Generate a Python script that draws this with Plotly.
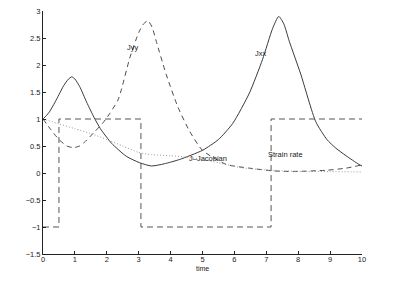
import plotly.graph_objects as go

# Jxx (solid)
t_jxx = [0, 0.1, 0.2, 0.375, 0.5, 0.65, 0.8, 0.9, 1.0, 1.15, 1.37, 1.6, 1.8, 2.15, 2.61, 3.03, 3.4, 3.8, 4.28, 5.0, 5.5, 5.95, 6.47, 6.88, 7.2, 7.39, 7.55, 7.72, 8.08, 8.55, 8.9, 9.18, 9.5, 9.9, 10]
jxx = [1.0, 1.06, 1.13, 1.31, 1.45, 1.62, 1.74, 1.78, 1.74, 1.6, 1.31, 1.03, 0.82, 0.55, 0.31, 0.19, 0.13, 0.17, 0.25, 0.42, 0.62, 0.92, 1.48, 2.1, 2.68, 2.9, 2.76, 2.44, 1.83, 0.95, 0.62, 0.46, 0.32, 0.16, 0.13]

# Jyy (dashed)
t_jyy = [0, 0.25, 0.5, 0.75, 0.95, 1.15, 1.3, 1.63, 1.88, 2.09, 2.35, 2.46, 2.72, 3.0, 3.15, 3.29, 3.42, 3.55, 3.86, 4.23, 4.6, 5.0, 5.74, 6.47, 7.2, 7.6, 8.0, 8.86, 9.5, 10]
jyy = [1.0, 0.8, 0.62, 0.5, 0.47, 0.5, 0.57, 0.77, 0.93, 1.1, 1.35, 1.55, 2.13, 2.6, 2.76, 2.82, 2.7, 2.44, 1.83, 1.22, 0.77, 0.42, 0.16, 0.09, 0.04, 0.03, 0.03, 0.05, 0.09, 0.15]

# J-Jacobian (dotted)
t_jac = [0, 0.5, 1.0, 1.5, 2.0, 2.5, 3.0, 3.4, 4.0, 4.4, 5.0, 5.5, 6.2, 6.7, 7.2, 8.0, 9.0, 10]
jac = [1.0, 0.91, 0.82, 0.73, 0.62, 0.5, 0.38, 0.34, 0.32, 0.3, 0.25, 0.19, 0.1, 0.07, 0.05, 0.03, 0.025, 0.02]

# Strain rate (dashed square wave)
t_sr = [0, 0.5, 0.5, 3.07, 3.07, 7.15, 7.15, 10]
sr = [-1, -1, 1, 1, -1, -1, 1, 1]

x_ticks = [0, 1, 2, 3, 4, 5, 6, 7, 8, 9, 10]
y_ticks = [-1.5, -1, -0.5, 0, 0.5, 1, 1.5, 2, 2.5, 3]
y_tick_text = ["\u22121.5", "\u22121", "\u22120.5", "0", "0.5", "1", "1.5", "2", "2.5", "3"]

labels = [("Jyy", 2.82, 2.32), ("Jxx", 6.83, 2.21), ("Strain rate", 7.59, 0.35), ("J\u2013Jacobian", 5.16, 0.26)]

FONT = "Liberation Sans"
fig = go.Figure()
fig.add_trace(go.Scatter(x=t_jxx, y=jxx, mode="lines", line=dict(color="#3a3a3a", width=1, shape="spline", smoothing=0.6)))
fig.add_trace(go.Scatter(x=t_jyy, y=jyy, mode="lines", line=dict(color="#4a4a4a", width=1, dash="5px,4px", shape="spline", smoothing=0.6)))
fig.add_trace(go.Scatter(x=t_jac, y=jac, mode="lines", line=dict(color="#9a9a9a", width=1, dash="1px,2px", shape="spline", smoothing=0.6)))
fig.add_trace(go.Scatter(x=t_sr, y=sr, mode="lines", line=dict(color="#555555", width=1, dash="6px,4px")))

for txt, x, y in labels:
    fig.add_annotation(x=x, y=y, text=txt, showarrow=False, font=dict(family=FONT, size=7.5, color="#222"))

# x-axis title as a paper-anchored annotation below the tick labels
fig.add_annotation(x=0.5, y=0, xref="paper", yref="paper", text="time", showarrow=False,
                   xanchor="center", yanchor="top", yshift=-10, borderpad=0,
                   font=dict(family=FONT, size=7, color="#222"))

axis_common = dict(showgrid=False, zeroline=False, showline=True, linecolor="#222", linewidth=1,
                   ticks="inside", ticklen=3, tickcolor="#222", mirror=False, automargin=False,
                   ticklabeloverflow="allow",
                   tickfont=dict(family=FONT, size=7.5, color="#222"))
fig.update_xaxes(range=[0, 10], tickvals=x_ticks, ticklabelstandoff=-2, **axis_common)
fig.update_yaxes(range=[-1.5, 3], tickvals=y_ticks, ticktext=y_tick_text, **axis_common)

# page body has an 8px margin; compensate so the axes land where the reference has them
fig.update_layout(width=394, height=265, autosize=False, showlegend=False,
                  margin=dict(l=35, r=40, t=3, b=19, pad=0),
                  paper_bgcolor="white", plot_bgcolor="white")
fig.write_html("out.html")
